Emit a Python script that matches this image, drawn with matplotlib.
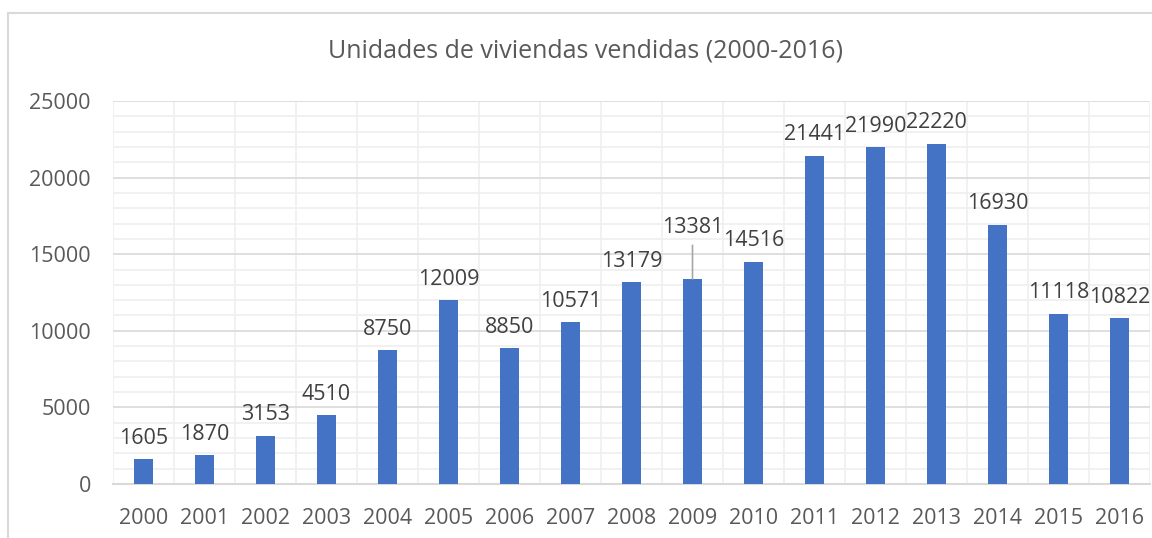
import numpy as np
import matplotlib
matplotlib.use("Agg")
from matplotlib import pyplot as plt
from matplotlib.lines import Line2D

# data
years = ["2000", "2001", "2002", "2003", "2004", "2005", "2006", "2007", "2008",
         "2009", "2010", "2011", "2012", "2013", "2014", "2015", "2016"]
units = [1605, 1870, 3153, 4510, 8750, 12009, 8850, 10571, 13179,
         13381, 14516, 21441, 21990, 22220, 16930, 11118, 10822]
title = "Unidades de viviendas vendidas (2000-2016)"

plt.rcParams['font.family'] = ['Open Sans', 'DejaVu Sans']
txt = "#595959"
bar_col = "#4472C4"

fig = plt.figure(figsize=(11.52, 5.38), dpi=100)
ax = fig.add_axes([113/1152, 1 - 484/538, 1037/1152, 383/538])

x = np.arange(len(years))
ax.bar(x, units, width=0.31, color=bar_col, zorder=3)

ax.set_xlim(-0.5, len(years) - 0.5)
ax.set_ylim(0, 25000)
ax.set_yticks(np.arange(0, 25001, 5000))
ax.set_yticks(np.arange(0, 25001, 1000), minor=True)
ax.set_xticks(x)
ax.set_xticklabels(years)
ax.set_xticks(np.arange(-0.5, len(years), 0.5), minor=True)

ax.grid(which="minor", color="#EFEFEF", linewidth=1.2, zorder=0)
ax.grid(which="major", axis="y", color="#D9D9D9", linewidth=1.2, zorder=1)
ax.grid(which="major", axis="x", visible=False)

for s in ["top", "right", "left"]:
    ax.spines[s].set_visible(False)
ax.spines["bottom"].set_color("#D9D9D9")
ax.spines["bottom"].set_linewidth(1.5)

fs = 15.5
ax.tick_params(which="both", length=0)
ax.tick_params(axis="y", labelsize=fs, labelcolor=txt, pad=16)
ax.tick_params(axis="x", labelsize=fs, labelcolor=txt, pad=17)

# data labels; 2009 label was dragged up in the original, with a leader line
shift = {"2009": 22}
for xi, yr, v in zip(x, years, units):
    extra = shift.get(yr, 0)
    ax.annotate(str(v), (xi, v), xytext=(0, 11 + extra), textcoords="offset points",
                ha="center", va="baseline", fontsize=fs, color="#404040", zorder=4)
    if extra:
        ax.annotate("", (xi, v), xytext=(0, 4 + extra * 1.35), textcoords="offset pixels",
                    arrowprops=dict(arrowstyle="-", color="#A6A6A6", lw=1.2,
                                    shrinkA=0, shrinkB=0))

fig.text(586/1152, 1 - 51/538, title, ha="center", va="center", fontsize=18, color=txt)

# chart area border (left and top edges visible in the crop)
fig.add_artist(Line2D([8/1152, 8/1152], [0, 1 - 13/538], transform=fig.transFigure,
                      color="#D9D9D9", linewidth=1.5))
fig.add_artist(Line2D([8/1152, 1], [1 - 13/538, 1 - 13/538], transform=fig.transFigure,
                      color="#D9D9D9", linewidth=1.5))

fig.savefig("out.png", dpi=100)
